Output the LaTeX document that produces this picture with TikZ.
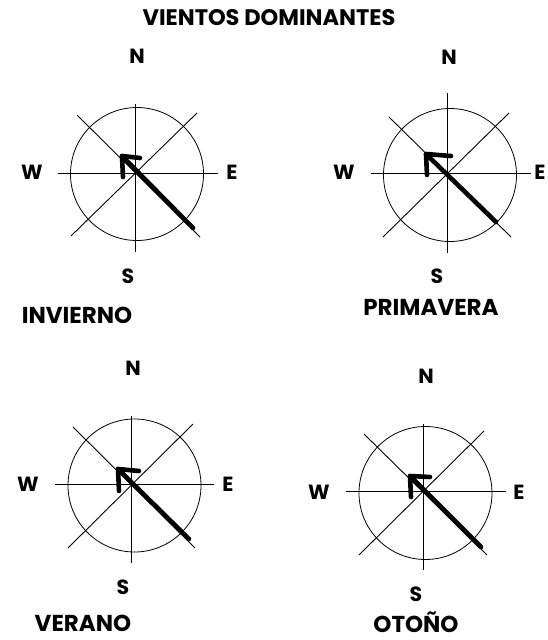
\documentclass[tikz,border=0pt]{standalone}
\usepackage{fontspec}
\setmainfont{Poppins}
\tikzset{
  axis/.style={line width=0.9pt},
  ring/.style={line width=0.8pt},
  wind/.style={line width=4.6pt, line cap=round, line join=round},
  dirlabel/.style={font=\bfseries\fontsize{20.5}{20.5}\selectfont, inner sep=0pt, anchor=base, text depth=0pt},
  seasonlabel/.style={font=\bfseries\fontsize{23}{23}\selectfont, inner sep=0pt, anchor=base, text depth=0pt},
  titlelabel/.style={font=\bfseries\fontsize{22.5}{22.5}\selectfont, inner sep=0pt, anchor=base, text depth=0pt},
}
\begin{document}
\begin{tikzpicture}[x=1pt,y=-1pt]
\useasboundingbox (0,0) rectangle (548,640);
\node[titlelabel] (title) at (269,25) {VIENTOS DOMINANTES};

% ---------- INVIERNO ----------
\draw[ring] (137,174) circle (66.5);
\draw[axis] (58,173) -- (218,173);
\draw[axis] (135,104) -- (135,252);
\draw[axis] (77,115) -- (200,237);
\draw[axis] (197,113) -- (71,236);
\coordinate (t1) at (193,228);
\coordinate (p1) at (122,156);
\coordinate (h1) at (140,158);
\coordinate (v1) at (123,177);
\draw[wind] (t1) -- (p1);
\draw[wind] (h1) -- (p1) -- (v1);
\node[dirlabel] (n1) at (137,63.5) {N};
\node[dirlabel] (w1) at (32,179.5) {W};
\node[dirlabel] (e1) at (232,179.5) {E};
\node[dirlabel] (s1) at (128,283.5) {S};
\node[seasonlabel] (l1) at (77,323) {INVIERNO};

% ---------- PRIMAVERA ----------
\draw[ring] (450,175) circle (66.5);
\draw[axis] (371,173) -- (531,173);
\draw[axis] (447,93) -- (447,253);
\draw[axis] (389,117) -- (511,237);
\draw[axis] (509,113) -- (383,237);
\coordinate (t2) at (496,222);
\coordinate (p2) at (426,154);
\coordinate (h2) at (451,156);
\coordinate (v2) at (427,175);
\draw[wind] (t2) -- (p2);
\draw[wind] (h2) -- (p2) -- (v2);
\node[dirlabel] (n2) at (449,64.5) {N};
\node[dirlabel] (w2) at (344,179.5) {W};
\node[dirlabel] (e2) at (540,179.5) {E};
\node[dirlabel] (s2) at (437,283.5) {S};
\node[seasonlabel] (l2) at (431,315) {PRIMAVERA};

% ---------- VERANO ----------
\draw[ring] (134.5,485.5) circle (66.5);
\draw[axis] (55,484) -- (214,484);
\draw[axis] (131,416) -- (131,563);
\draw[axis] (73,427) -- (195,548);
\draw[axis] (193,424) -- (68,548);
\coordinate (t3) at (189,539);
\coordinate (p3) at (118,469);
\coordinate (h3) at (139,471);
\coordinate (v3) at (119,491);
\draw[wind] (t3) -- (p3);
\draw[wind] (h3) -- (p3) -- (v3);
\node[dirlabel] (n3) at (133,375.5) {N};
\node[dirlabel] (w3) at (28,491.5) {W};
\node[dirlabel] (e3) at (228,491.5) {E};
\node[dirlabel] (s3) at (123,594.5) {S};
\node[seasonlabel] (l3) at (83,631) {VERANO};

% ---------- OTOÑO ----------
\draw[ring] (425.5,493) circle (66.5);
\draw[axis] (346,491) -- (506,491);
\draw[axis] (423,424) -- (423,570);
\draw[axis] (364,434) -- (487,555);
\draw[axis] (484,431) -- (359,555);
\coordinate (t4) at (481,547);
\coordinate (p4) at (410,476);
\coordinate (h4) at (430,477);
\coordinate (v4) at (411,497);
\draw[wind] (t4) -- (p4);
\draw[wind] (h4) -- (p4) -- (v4);
\node[dirlabel] (n4) at (426,383.5) {N};
\node[dirlabel] (w4) at (319,499.5) {W};
\node[dirlabel] (e4) at (519,499.5) {E};
\node[dirlabel] (s4) at (416,601.5) {S};
\node[seasonlabel] (l4) at (416,632) {OTOÑO};
\end{tikzpicture}
\end{document}
